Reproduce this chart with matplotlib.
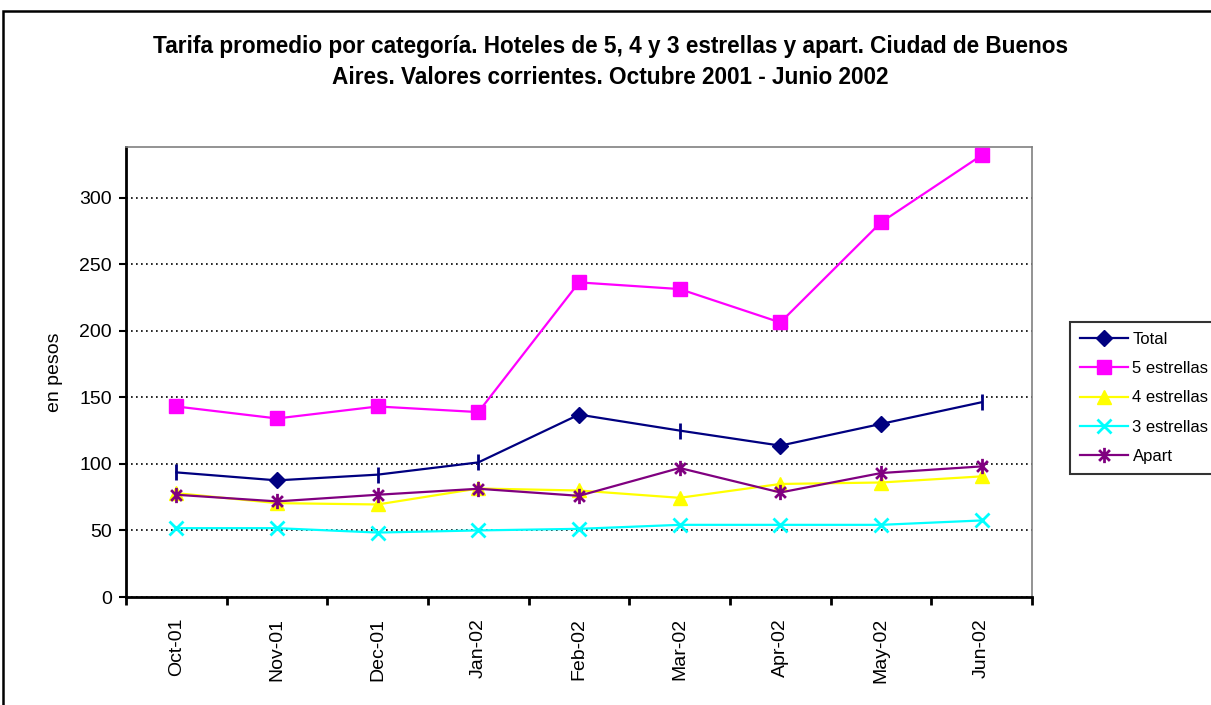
import matplotlib
matplotlib.use("Agg")
import matplotlib.pyplot as plt
from matplotlib.patches import Rectangle
from matplotlib.path import Path
from matplotlib.lines import Line2D
import numpy as np

plt.rcParams['font.family'] = ['Liberation Sans', 'DejaVu Sans']

months = ["Oct-01", "Nov-01", "Dec-01", "Jan-02", "Feb-02", "Mar-02", "Apr-02", "May-02", "Jun-02"]
total = [93.6, 87.6, 91.9, 101.1, 137.0, 125.0, 113.7, 130.0, 146.3]
cinco = [143.1, 134.1, 143.1, 138.9, 236.3, 231.3, 206.2, 281.4, 331.8]
cuatro = [78.0, 70.5, 69.5, 81.5, 80.0, 74.5, 84.9, 86.0, 90.6]
tres = [51.7, 51.7, 48.4, 50.0, 51.2, 54.2, 54.2, 54.2, 57.5]
apart = [76.8, 71.8, 76.8, 81.3, 76.0, 96.9, 78.5, 93.1, 98.1]
yticks = [0, 50, 100, 150, 200, 250, 300]
labels = ['Total', '5 estrellas', '4 estrellas', '3 estrellas', 'Apart']

W, H = 1211, 705
fig = plt.figure(figsize=(W / 100, H / 100), dpi=100)
fig.patch.set_facecolor('white')

# outer chart border
fig.patches.append(Rectangle((3 / W, -0.05), 1.1, (705 - 11) / H + 0.05,
                             transform=fig.transFigure, fill=False,
                             edgecolor='black', linewidth=1.8, clip_on=False))

ax = fig.add_axes([126 / W, (705 - 597) / H, (1032 - 126) / W, (597 - 147) / H])
x = np.arange(len(months))

# asterisk marker (x + vertical)
d = 0.7071
ast = Path([(0, -1), (0, 1), (-d, -d), (d, d), (-d, d), (d, -d)],
           [Path.MOVETO, Path.LINETO, Path.MOVETO, Path.LINETO, Path.MOVETO, Path.LINETO])

navy = '#000080'
dia_idx = [1, 4, 6, 7]
bar_idx = [0, 2, 3, 5, 8]
ax.plot(x, total, color=navy, lw=1.6, zorder=3)
ax.plot(x, total, ls='none', marker='D', markevery=dia_idx, ms=8.5, color=navy, zorder=3)
ax.plot(x, total, ls='none', marker='|', markevery=bar_idx, ms=11, mew=2, color=navy, zorder=3)
ax.plot(x, cinco, color='#FF00FF', lw=1.6, marker='s', ms=10, zorder=4)
ax.plot(x, cuatro, color='#FFFF00', lw=1.6, marker='^', ms=10, zorder=5)
ax.plot(x, tres, color='#00FFFF', lw=1.6, marker='x', ms=10, mew=2, zorder=6)
ax.plot(x, apart, color='#800080', lw=1.6, marker=ast, ms=11, mew=2, zorder=7)

ax.set_xlim(-0.5, len(months) - 0.5)
ax.set_ylim(0, 338)
ax.set_yticks(yticks)
ax.set_yticklabels([str(v) for v in yticks], fontsize=14)
ax.set_xticks(x)
ax.set_xticklabels(months, rotation=90, fontsize=14)
ax.tick_params(axis='x', which='major', length=0, pad=15)
ax.set_xticks(np.arange(len(months) + 1) - 0.5, minor=True)
ax.tick_params(axis='x', which='minor', length=6, width=2, direction='out')
ax.tick_params(axis='y', which='major', length=5, width=1.5, direction='out', pad=5)
ax.yaxis.grid(True, color='black', linestyle=(0, (1, 2)), linewidth=1.2)
ax.set_axisbelow(True)
for s in ['left', 'bottom']:
    ax.spines[s].set_linewidth(2)
    ax.spines[s].set_color('black')
for s in ['top', 'right']:
    ax.spines[s].set_linewidth(1.2)
    ax.spines[s].set_color('#808080')

ax.set_ylabel('en pesos', fontsize=14, labelpad=12)

fig.text(610 / W, 1 - 46 / H,
         'Tarifa promedio por categoría. Hoteles de 5, 4 y 3 estrellas y apart. Ciudad de Buenos',
         ha='center', va='center', fontsize=16.3, fontweight='bold')
fig.text(610 / W, 1 - 77 / H,
         'Aires. Valores corrientes. Octubre 2001 - Junio 2002',
         ha='center', va='center', fontsize=16.3, fontweight='bold')

handles = [
    Line2D([], [], color=navy, lw=1.6, marker='D', ms=8.5),
    Line2D([], [], color='#FF00FF', lw=1.6, marker='s', ms=10),
    Line2D([], [], color='#FFFF00', lw=1.6, marker='^', ms=10),
    Line2D([], [], color='#00FFFF', lw=1.6, marker='x', ms=10, mew=2),
    Line2D([], [], color='#800080', lw=1.6, marker=ast, ms=11, mew=2),
]
leg = fig.legend(handles, labels, loc='upper left',
                 bbox_to_anchor=(1070 / W, 1 - 322 / H), bbox_transform=fig.transFigure,
                 frameon=True, fancybox=False, edgecolor='black', fontsize=12,
                 handlelength=2.85, handletextpad=0.3, labelspacing=0.85,
                 borderpad=0.6, borderaxespad=0)
leg.get_frame().set_linewidth(1.5)

fig.savefig('out.png', dpi=100)
